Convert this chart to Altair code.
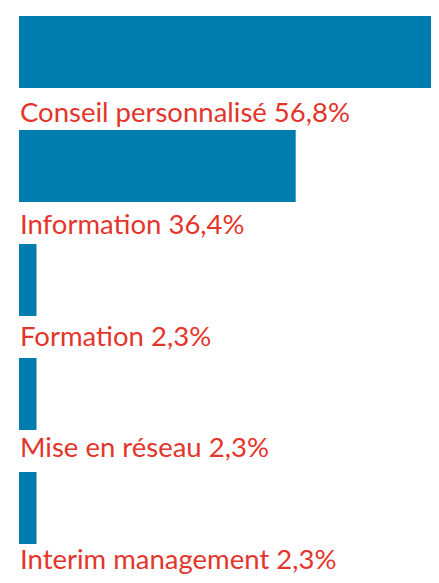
import altair as alt
import pandas as pd

categories = ["Conseil personnalisé", "Information", "Formation", "Mise en réseau", "Interim management"]
values = [56.8, 36.4, 2.3, 2.3, 2.3]
value_labels = ["56,8%", "36,4%", "2,3%", "2,3%", "2,3%"]

df = pd.DataFrame({
    "cat": categories,
    "value": values,
    "label": [f"{c} {v}" for c, v in zip(categories, value_labels)],
})

bars = alt.Chart(df).mark_bar(color="#007DAF", clip=True).encode(
    x=alt.X("value:Q", axis=None, scale=alt.Scale(domain=[0, 54.2])),
    y=alt.Y("cat:N", sort=categories, axis=None,
            scale=alt.Scale(paddingInner=0.368, paddingOuter=0)),
)

text = alt.Chart(df).mark_text(
    align="left", baseline="alphabetic", dx=1,
    font="Lato", fontSize=27.5, color="#E3352B",
).encode(
    x=alt.value(0),
    y=alt.Y("cat:N", sort=categories, axis=None,
            scale=alt.Scale(type="point", padding=0, range=[106, 553])),
    text="label:N",
)

chart = alt.layer(bars, text).resolve_scale(y="independent").properties(
    width=412, height=528,
    padding={"left": 11, "top": 8, "right": 0, "bottom": 31},
    autosize=alt.AutoSizeParams(type="none"),
).configure_view(stroke=None)

chart.save("out.html", embed_options={"renderer": "svg", "actions": False})
